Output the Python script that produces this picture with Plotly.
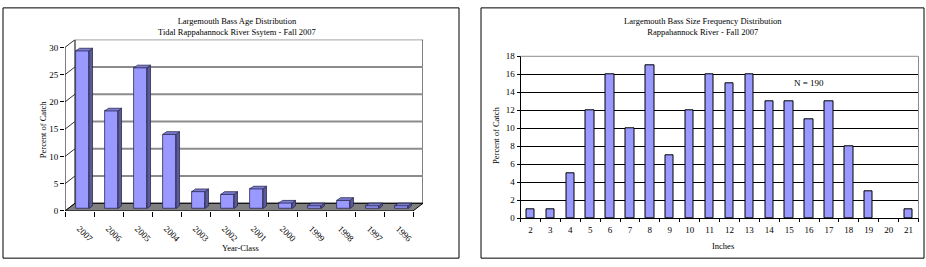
import plotly.graph_objects as go

# ---------------- data ----------------
age_years = ["2007", "2006", "2005", "2004", "2003", "2002", "2001", "2000",
             "1999", "1998", "1997", "1996"]
age_pct = [28.9, 17.9, 25.8, 13.6, 3.1, 2.6, 3.6, 1.0, 0.5, 1.5, 0.5, 0.5]
age_yticks = [0, 5, 10, 15, 20, 25, 30]

size_inches = ["2", "3", "4", "5", "6", "7", "8", "9", "10", "11", "12", "13",
               "14", "15", "16", "17", "18", "19", "20", "21"]
size_count = [1, 1, 5, 12, 16, 10, 17, 7, 12, 16, 15, 16, 13, 13, 11, 13, 8, 3, 0, 1]
size_yticks = [0, 2, 4, 6, 8, 10, 12, 14, 16, 18]

# ---------------- layout constants (pixels) ----------------
W, H = 926, 267
FONT = "Liberation Serif"

# left 3-D chart geometry
LX0, LX1 = 65, 413          # front edge x
LY0, LYTOP = 214, 44        # front y for value 0 and for max tick
DEP_X, DEP_Y = 10, 8        # depth of the floor / walls in px
BOFF_X, BOFF_Y = 3, 2.5     # bar plane offset in px
BDEP_X, BDEP_Y = 3.5, 2.8   # bar depth in px
BAR_W = 0.45

n = len(age_years)
ymax_tick = age_yticks[-1]
pxx = (LX1 - LX0) / n
pxy = (LY0 - LYTOP) / ymax_tick
DX, DY = DEP_X / pxx, DEP_Y / pxy
bdx, bdy = BOFF_X / pxx, BOFF_Y / pxy
ddx, ddy = BDEP_X / pxx, BDEP_Y / pxy
x0, x1 = -0.5, n - 0.5

fig = go.Figure()

# front faces of the 3-D bars
xs = [i + bdx for i in range(n)]
fig.add_trace(go.Bar(
    x=xs, y=age_pct, base=bdy, width=BAR_W,
    marker=dict(color="#9999FF", line=dict(color="#2b2b55", width=0.8)),
    xaxis="x", yaxis="y", showlegend=False, hoverinfo="skip"))

# side and top faces
sx, sy, tx, ty = [], [], [], []
for xc, v in zip(xs, age_pct):
    xl, xr = xc - BAR_W / 2, xc + BAR_W / 2
    sx += [xr, xr + ddx, xr + ddx, xr, xr, None]
    sy += [bdy, bdy + ddy, bdy + v + ddy, bdy + v, bdy, None]
    tx += [xl, xr, xr + ddx, xl + ddx, xl, None]
    ty += [bdy + v, bdy + v, bdy + v + ddy, bdy + v + ddy, bdy + v, None]
fig.add_trace(go.Scatter(x=sx, y=sy, mode="lines", fill="toself",
                         fillcolor="#5a5a96", line=dict(color="#2b2b55", width=0.8),
                         xaxis="x", yaxis="y", showlegend=False, hoverinfo="skip"))
fig.add_trace(go.Scatter(x=tx, y=ty, mode="lines", fill="toself",
                         fillcolor="#7c7cd0", line=dict(color="#2b2b55", width=0.8),
                         xaxis="x", yaxis="y", showlegend=False, hoverinfo="skip"))

# right chart bars
fig.add_trace(go.Bar(
    x=size_inches, y=size_count, width=0.42,
    marker=dict(color="#9999FF",
                line=dict(color="#000000",
                          width=[1 if v > 0 else 0 for v in size_count])),
    xaxis="x2", yaxis="y2", showlegend=False, hoverinfo="skip"))

shapes = []
# back wall
shapes.append(dict(type="rect", xref="x", yref="y", x0=x0 + DX, x1=x1 + DX,
                   y0=DY, y1=ymax_tick + DY, fillcolor="white",
                   line=dict(color="black", width=1), layer="below"))
for v in age_yticks[1:-1]:
    shapes.append(dict(type="line", xref="x", yref="y", x0=x0 + DX, x1=x1 + DX,
                       y0=v + DY, y1=v + DY, line=dict(color="#8c8c8c", width=2),
                       layer="below"))
# side wall diagonals
for v in age_yticks:
    shapes.append(dict(type="line", xref="x", yref="y", x0=x0, x1=x0 + DX,
                       y0=v, y1=v + DY, line=dict(color="#333333", width=1),
                       layer="below"))
# front vertical axis
shapes.append(dict(type="line", xref="x", yref="y", x0=x0, x1=x0, y0=0,
                   y1=ymax_tick, line=dict(color="black", width=1), layer="below"))
# floor
shapes.append(dict(type="path", xref="x", yref="y",
                   path=f"M{x0},0 L{x1},0 L{x1 + DX},{DY} L{x0 + DX},{DY} Z",
                   fillcolor="#808080", line=dict(color="black", width=1),
                   layer="below"))

# right chart plot-area top & right border (gray)
shapes.append(dict(type="line", xref="x2 domain", yref="y2 domain", x0=0, x1=1,
                   y0=1, y1=1, line=dict(color="#8c8c8c", width=1), layer="above"))
shapes.append(dict(type="line", xref="x2 domain", yref="y2 domain", x0=1, x1=1,
                   y0=0, y1=1, line=dict(color="#8c8c8c", width=1), layer="above"))

# panel borders
for (a, b) in [(3, 459), (481, 924)]:
    shapes.append(dict(type="rect", xref="paper", yref="paper",
                       x0=a / W, x1=b / W, y0=(H - 263) / H, y1=(H - 3) / H,
                       line=dict(color="black", width=1), layer="above"))

def px(xp, yp):
    return xp / W, (H - yp) / H

annotations = []
def txt(text, xp, yp, size, angle=0):
    ax, ay = px(xp, yp)
    annotations.append(dict(text=text, x=ax, y=ay, xref="paper", yref="paper",
                            showarrow=False, textangle=angle,
                            font=dict(family=FONT, size=size, color="black"),
                            xanchor="center", yanchor="middle"))

txt("Largemouth Bass Age Distribution<br>Tidal Rappahannock River Ssytem - Fall 2007",
    237, 22, 8.5)
txt("Largemouth Bass Size Frequency Distribution<br>Rappahannock River - Fall 2007",
    703, 22, 8.5)
txt("Percent of Catch", 43, 130, 8.5, -90)
txt("Year-Class", 240, 252, 8.5)
txt("Percent of Catch", 496, 136, 8.5, -90)
txt("Inches", 723, 250, 8.5)
annotations.append(dict(text="N = 190", x=14, y=15, xref="x2", yref="y2",
                        showarrow=False, font=dict(family=FONT, size=9, color="black")))

fig.update_layout(
    width=W, height=H, autosize=False,
    margin=dict(l=0, r=0, t=0, b=0),
    paper_bgcolor="white", plot_bgcolor="rgba(0,0,0,0)",
    font=dict(family=FONT, size=9, color="black"),
    bargap=0,
    shapes=shapes, annotations=annotations,
    xaxis=dict(domain=[LX0 / W, (LX1 + DEP_X) / W], range=[x0, x1 + DX],
               type="linear", showgrid=False, zeroline=False, showline=False,
               tickmode="array", tickvals=list(range(n)), ticktext=age_years,
               tickangle=45, ticks="outside", ticklen=8,
               tickcolor="rgba(0,0,0,0)",
               minor=dict(tickmode="array",
                          tickvals=[i - 0.5 for i in range(n + 1)],
                          ticks="outside", ticklen=5, tickcolor="black",
                          showgrid=False),
               tickfont=dict(family=FONT, size=9), anchor="y", fixedrange=True),
    yaxis=dict(domain=[(H - LY0) / H, (H - (LYTOP - DEP_Y)) / H],
               range=[0, (LY0 - (LYTOP - DEP_Y)) / pxy],
               showgrid=False, zeroline=False, showline=False,
               tickmode="array", tickvals=age_yticks, ticks="outside",
               ticklen=4, tickcolor="black",
               tickfont=dict(family=FONT, size=9), anchor="x", fixedrange=True),
    xaxis2=dict(domain=[520.5 / W, 918.5 / W], type="category",
                showgrid=False, zeroline=False, showline=True, linecolor="black",
                linewidth=1, ticks="outside", tickson="boundaries", ticklen=3,
                tickcolor="black", tickfont=dict(family=FONT, size=9),
                ticklabelstandoff=3,
                anchor="y2", fixedrange=True),
    yaxis2=dict(domain=[(H - 221.5) / H, (H - 53.3) / H], range=[0, 18],
                tickmode="array", tickvals=size_yticks,
                showgrid=True, gridcolor="black", gridwidth=1,
                zeroline=False, showline=True, linecolor="black", linewidth=1,
                ticks="outside", ticklen=3, tickcolor="black",
                tickfont=dict(family=FONT, size=9), anchor="x2", fixedrange=True),
)

fig.write_html("out.html")
